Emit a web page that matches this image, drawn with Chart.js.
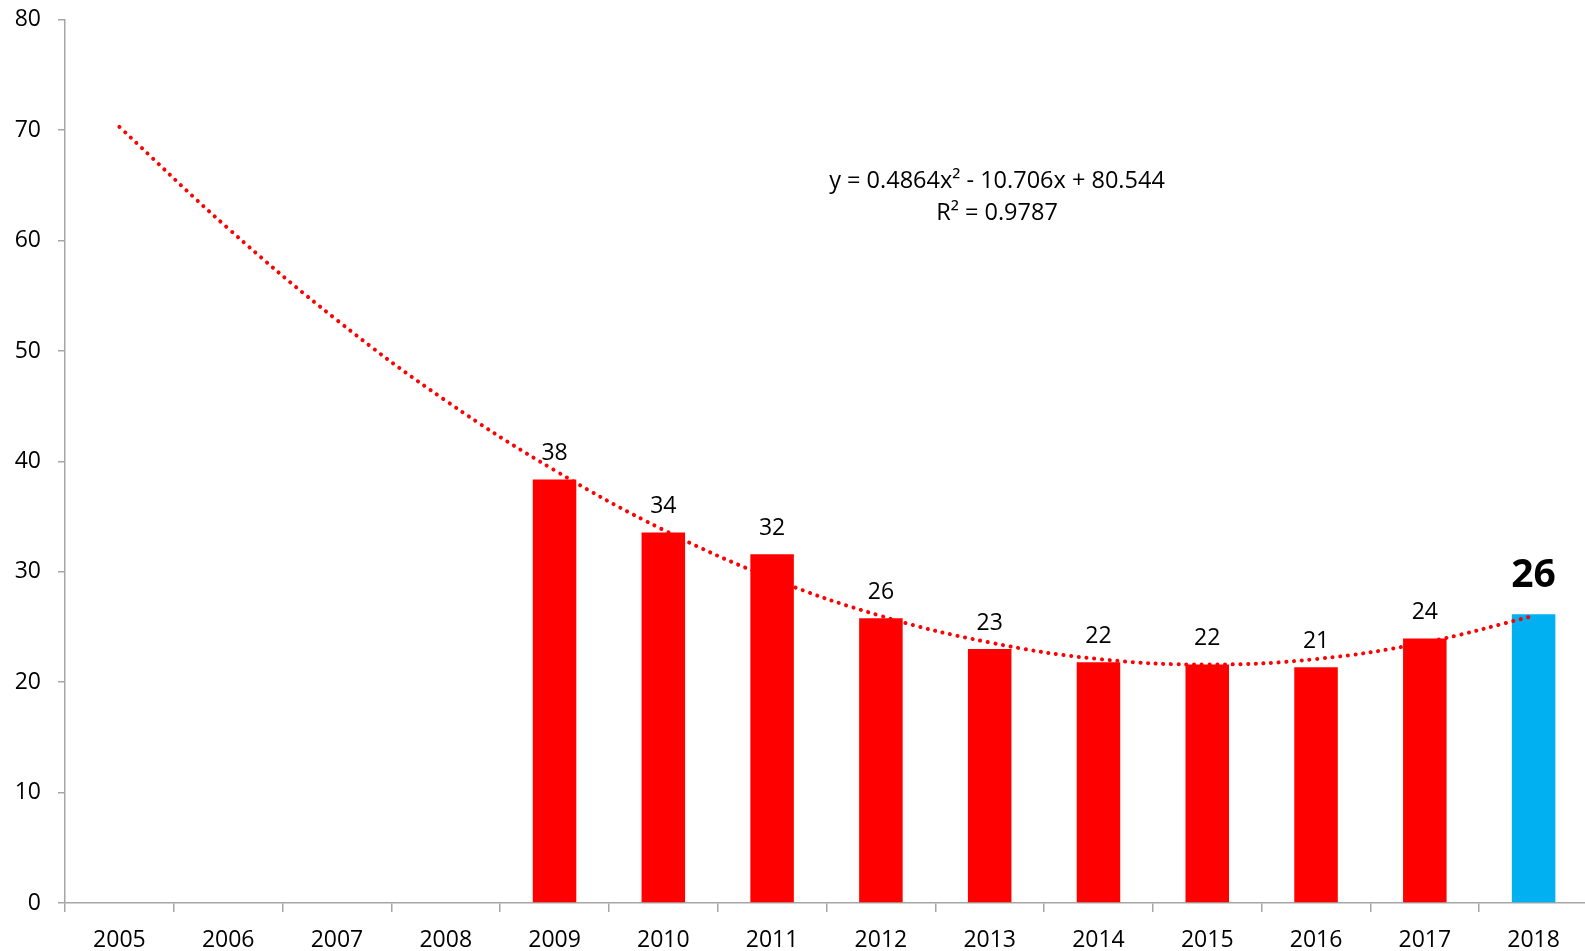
<!DOCTYPE html>
<html>
<head>
<meta charset="utf-8">
<script src="https://cdn.jsdelivr.net/npm/chart.js@4/dist/chart.umd.min.js"></script>
<style>
html,body{margin:0;padding:0;background:#fff;overflow:hidden;}
canvas{display:block;margin-top:-11px;}
</style>
</head>
<body>
<canvas id="c" width="1588" height="962"></canvas>
<script>
const categories = ['2005','2006','2007','2008','2009','2010','2011','2012','2013','2014','2015','2016','2017','2018'];
const barValues = [null, null, null, null, 38.35, 33.55, 31.6, 25.8, 23.0, 21.8, 21.6, 21.35, 23.95, 26.15];
const barLabels = ['', '', '', '', '38', '34', '32', '26', '23', '22', '22', '21', '24', '26'];
const trendValues = [70.3, 61.1, 52.8, 45.5, 39.2, 33.8, 29.4, 26.0, 23.6, 22.1, 21.6, 22.1, 23.6, 26.0];
const yTicks = [0, 10, 20, 30, 40, 50, 60, 70, 80];
const trendText = ['y = 0.4864x\u00B2 - 10.706x + 80.544', 'R\u00B2 = 0.9787'];

const FONT = '"Open Sans", Lato, sans-serif';
const barColors = categories.map((c, i) => i === categories.length - 1 ? '#00B0F0' : '#FF0000');

const labelPlugin = {
  id: 'barLabels',
  afterDatasetsDraw(chart) {
    const ctx = chart.ctx;
    const meta = chart.getDatasetMeta(1);
    ctx.save();
    ctx.fillStyle = '#000';
    ctx.textAlign = 'center';
    ctx.textBaseline = 'middle';
    meta.data.forEach((bar, i) => {
      if (barValues[i] == null) return;
      const last = i === categories.length - 1;
      ctx.font = last ? 'bold 39px ' + FONT : '23px ' + FONT;
      ctx.fillText(barLabels[i], bar.x, bar.y - (last ? 38 : 26));
    });
    // trend equation
    ctx.font = '23.5px ' + FONT;
    ctx.fillText(trendText[0], 997, 192);
    ctx.fillText(trendText[1], 997, 224);
    ctx.restore();
  }
};

new Chart(document.getElementById('c'), {
  data: {
    labels: categories,
    datasets: [
      {
        type: 'line',
        data: trendValues,
        borderColor: '#FF0000',
        borderWidth: 4,
        borderDash: [0.1, 7.6],
        borderCapStyle: 'round',
        pointRadius: 0,
        tension: 0.4,
        fill: false,
        order: 0
      },
      {
        type: 'bar',
        data: barValues,
        backgroundColor: barColors,
        borderWidth: 0,
        categoryPercentage: 1.0,
        barPercentage: 0.4,
        order: 1
      }
    ]
  },
  options: {
    responsive: false,
    animation: false,
    devicePixelRatio: 1,
    layout: { padding: { top: 8, left: 0, right: 0, bottom: 0 } },
    plugins: { legend: { display: false }, tooltip: { enabled: false } },
    scales: {
      x: {
        offset: true,
        grid: { offset: true, drawOnChartArea: false, color: '#A6A6A6', tickLength: 9, lineWidth: 1.5 },
        border: { color: '#A6A6A6', width: 1.5 },
        ticks: { color: '#000', font: { family: FONT, size: 23 }, padding: 15, maxRotation: 0, autoSkip: false },
        afterFit(scale) { scale.height = 48; }
      },
      y: {
        min: 0, max: 80,
        afterBuildTicks(scale) { scale.ticks = yTicks.map(v => ({ value: v })); },
        grid: { drawOnChartArea: false, color: '#A6A6A6', tickLength: 7, lineWidth: 1.5 },
        border: { color: '#A6A6A6', width: 1.5 },
        ticks: { color: '#000', font: { family: FONT, size: 23 }, padding: 17 },
        afterFit(scale) { scale.width = 65; }
      }
    }
  },
  plugins: [labelPlugin]
});
</script>
</body>
</html>
